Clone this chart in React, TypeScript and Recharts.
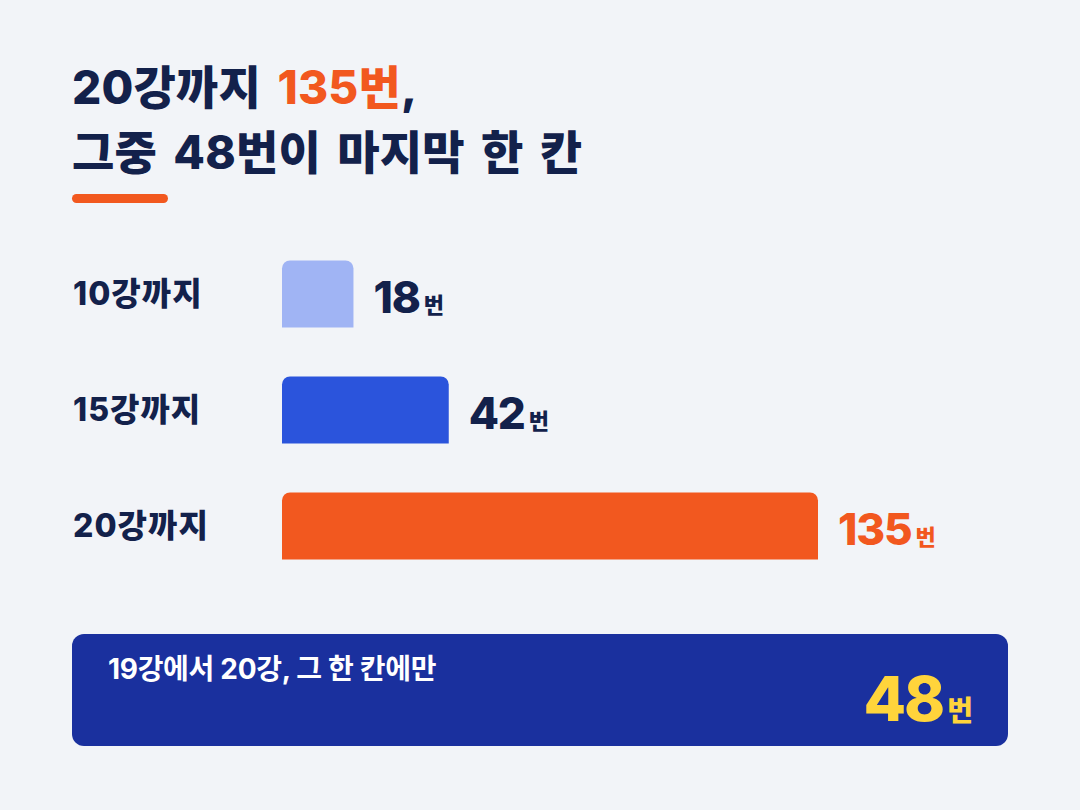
import React from "react";
import { BarChart, Bar, XAxis, YAxis, Cell, LabelList } from "recharts";

const categories = ["10강까지", "15강까지", "20강까지"];
const values = [18, 42, 135];
const barColors = ["#a0b4f4", "#2b54dc", "#f2581f"];
const labelColors = ["#13214b", "#13214b", "#f2581f"];
const unit = "번";
const titleLine1 = ["20강까지 ", "135번", ","];
const titleLine2 = "그중 48번이 마지막 한 칸";
const boxText = "19강에서 20강, 그 한 칸에만";
const boxValue = 48;

const data = categories.map((c, i) => ({ name: c, value: values[i], idx: i }));

const NAVY = "#13214b";
const BG = "#f2f4f8";
const FONT = "Inter, 'Noto Sans CJK KR', sans-serif";

const CategoryTick = (props: any) => {
  const { y, payload } = props;
  return (
    <text
      x={73}
      y={y}
      dy={11}
      textAnchor="start"
      fill={NAVY}
      fontFamily={FONT}
      fontWeight={800}
      fontSize={32}
      letterSpacing={1}
    >
      {payload.value}
    </text>
  );
};

const ValueLabel = (props: any) => {
  const { x, y, width, height, value, index } = props;
  const color = labelColors[index] || NAVY;
  return (
    <text
      x={x + width + 20}
      y={y + height / 2 + 19}
      fill={color}
      fontFamily={FONT}
      fontWeight={800}
      textAnchor="start"
    >
      <tspan fontSize={44} letterSpacing={-1.2}>{value}</tspan>
      <tspan fontSize={22} dx={4} fontWeight={800}>{unit}</tspan>
    </text>
  );
};

export default function App() {
  return (
    <div
      style={{
        position: "absolute",
        left: 0,
        top: 0,
        width: 1080,
        height: 810,
        background: BG,
        overflow: "hidden",
        fontFamily: FONT,
      }}
    >
      <div
        style={{
          position: "absolute",
          left: 72,
          top: 55,
          fontSize: 46,
          fontWeight: 800,
          letterSpacing: 0.2,
          wordSpacing: 6,
          color: NAVY,
          lineHeight: "65px",
          whiteSpace: "nowrap",
        }}
      >
        <div>
          {titleLine1[0]}
          <span style={{ color: "#f2581f" }}>{titleLine1[1]}</span>
          {titleLine1[2]}
        </div>
        <div>{titleLine2}</div>
      </div>
      <div
        style={{
          position: "absolute",
          left: 72,
          top: 194,
          width: 96,
          height: 9,
          borderRadius: 5,
          background: "#f2581f",
        }}
      />
      <div style={{ position: "absolute", left: 0, top: 0 }}>
        <BarChart
          width={1080}
          height={810}
          data={data}
          layout="vertical"
          margin={{ top: 235.5, right: 262, bottom: 226.5, left: 0 }}
        >
          <XAxis type="number" domain={[0, 135]} hide />
          <YAxis
            type="category"
            dataKey="name"
            width={282}
            axisLine={false}
            tickLine={false}
            tick={<CategoryTick />}
            interval={0}
          />
          <Bar
            dataKey="value"
            barSize={67}
            radius={[8, 8, 0, 0]}
            isAnimationActive={false}
          >
            {data.map((d, i) => (
              <Cell key={d.name} fill={barColors[i]} />
            ))}
            <LabelList dataKey="value" content={<ValueLabel />} />
          </Bar>
        </BarChart>
      </div>
      <div
        style={{
          position: "absolute",
          left: 72,
          top: 634,
          width: 936,
          height: 112,
          borderRadius: 12,
          background: "#1a309e",
        }}
      >
        <div
          style={{
            position: "absolute",
            left: 36,
            top: 17,
            color: "#ffffff",
            fontSize: 28,
            fontWeight: 700,
            letterSpacing: -0.3,
            whiteSpace: "nowrap",
            lineHeight: "36px",
          }}
        >
          {boxText}
        </div>
        <div
          style={{
            position: "absolute",
            right: 35,
            top: 30,
            color: "#ffd43b",
            whiteSpace: "nowrap",
            fontWeight: 800,
            lineHeight: "70px",
          }}
        >
          <span style={{ fontSize: 62, letterSpacing: -2 }}>{boxValue}</span>
          <span style={{ fontSize: 28, fontWeight: 800, marginLeft: 4 }}>{unit}</span>
        </div>
      </div>
    </div>
  );
}
